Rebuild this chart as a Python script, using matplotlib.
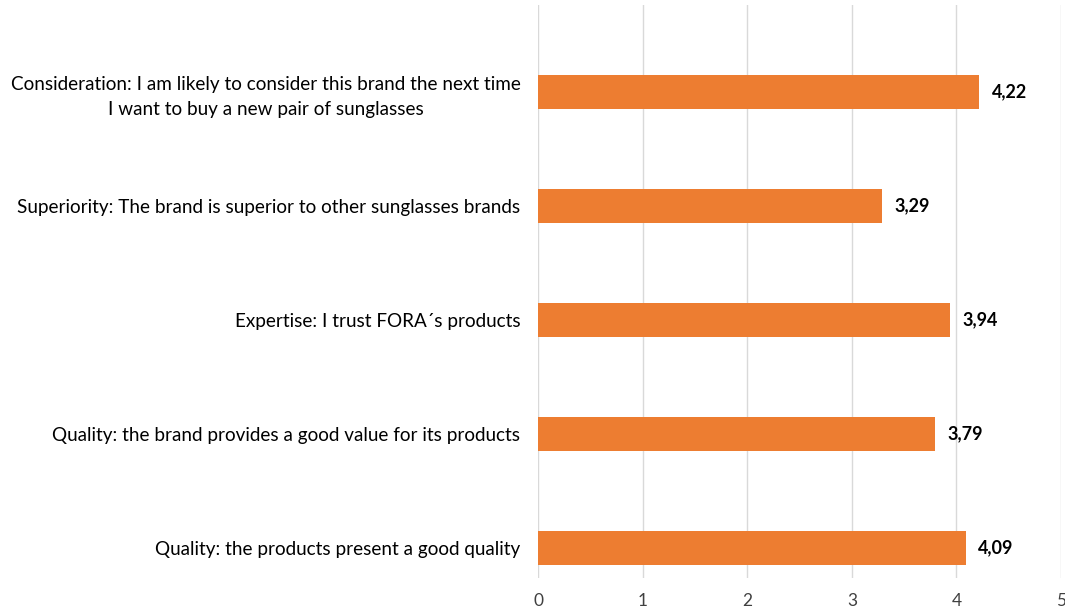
import matplotlib.pyplot as plt
import numpy as np

labels = [
    "Quality: the products present a good quality",
    "Quality: the brand provides a good value for its products",
    "Expertise: I trust FORA\u00b4s products",
    "Superiority: The brand is superior to other sunglasses brands",
    "Consideration: I am likely to consider this brand the next time\nI want to buy a new pair of sunglasses",
]
scores = [4.09, 3.79, 3.94, 3.29, 4.22]
x_ticks = [0, 1, 2, 3, 4, 5]

plt.rcParams['font.family'] = ['Lato', 'DejaVu Sans']

fig = plt.figure(figsize=(10.65, 6.11), dpi=100)
ax = fig.add_axes([0.5056, 0.054, 0.4906, 0.9378])

pos = np.arange(len(labels))
ax.barh(pos, scores, height=0.3, color='#ED7D31', zorder=3)

for y, v in zip(pos, scores):
    ax.annotate(f"{v:.2f}".replace('.', ','), xy=(v, y), xytext=(9, 0),
                textcoords='offset points', ha='left', va='center',
                fontsize=13, fontweight='bold', color='black')

ax.set_xlim(0, 5)
ax.set_ylim(-0.263, 4.763)
ax.set_xticks(x_ticks)
ax.set_xticklabels([str(t) for t in x_ticks], fontsize=12.5, color='#404040')
ax.set_yticks(pos)
ax.set_yticklabels(labels, fontsize=13.6, color='black', multialignment='center',
                   linespacing=1.55)
ax.tick_params(axis='both', length=0)
ax.tick_params(axis='x', pad=11)
ax.tick_params(axis='y', pad=13)
ax.grid(axis='x', color='#D9D9D9', linewidth=1, zorder=0)
for s in ax.spines.values():
    s.set_visible(False)

fig.savefig('out.png', dpi=100)
